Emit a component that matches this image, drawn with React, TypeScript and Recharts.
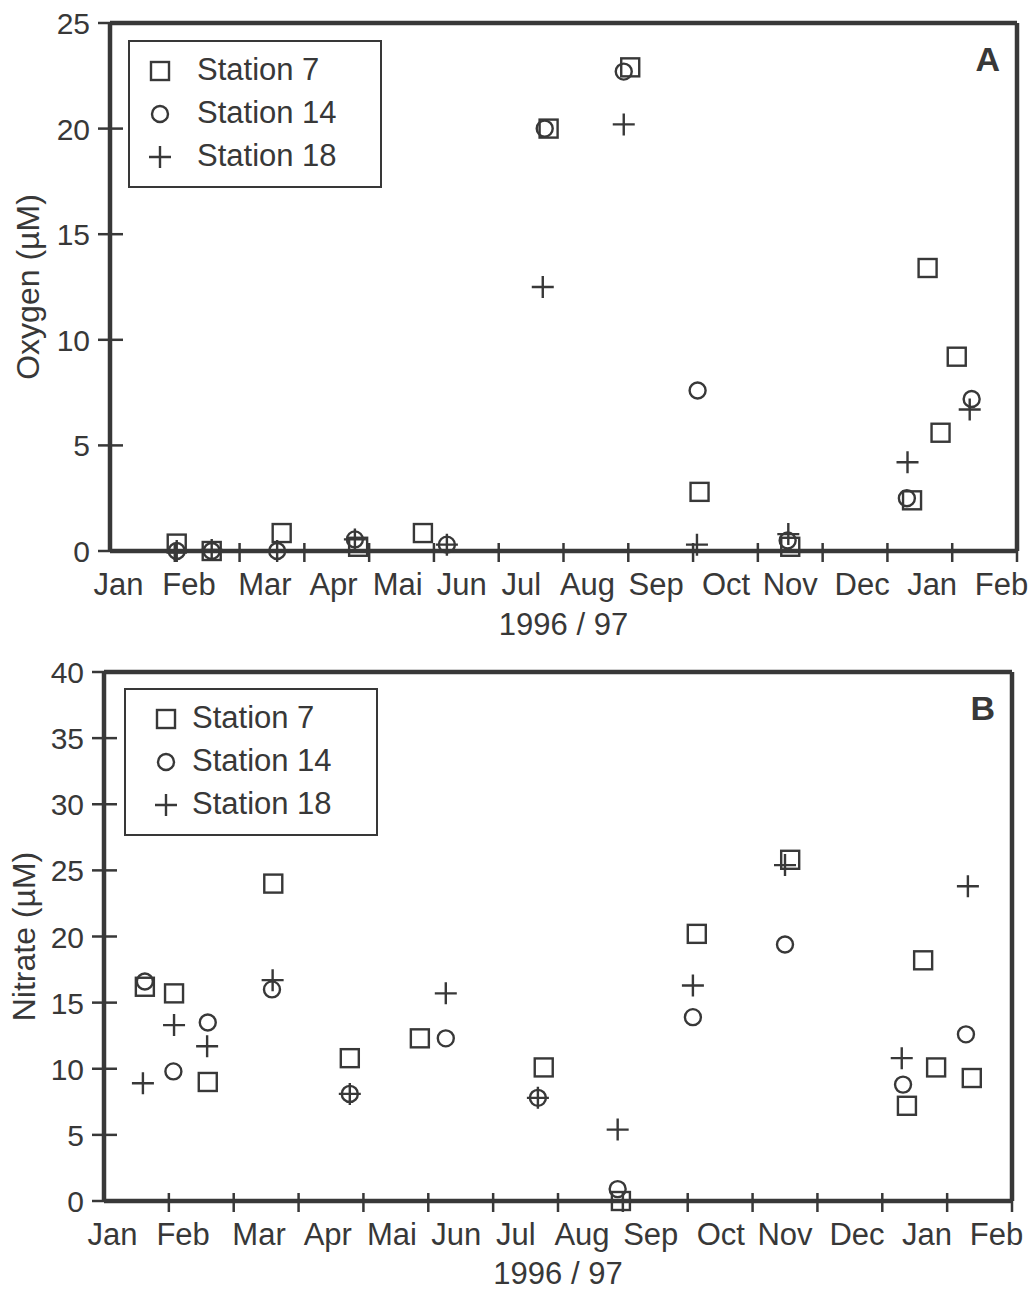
import { Legend, ReferenceLine, Scatter, ScatterChart, XAxis, YAxis } from "recharts";

const INK = "#383838";
const FONT = '"Liberation Sans", Arial, Helvetica, sans-serif';

const MONTHS = ["Jan", "Feb", "Mar", "Apr", "Mai", "Jun", "Jul", "Aug", "Sep", "Oct", "Nov", "Dec", "Jan", "Feb"];
// label centres in months since 1 Jan 1996 (the original spreads them a bit wider than the cells)
const MONTH_LABEL_POS = [0.13, 1.22, 2.39, 3.45, 4.44, 5.43, 6.35, 7.37, 8.43, 9.51, 10.5, 11.61, 12.69, 13.76];
const MONTH_BOUNDS = [1, 2, 3, 4, 5, 6, 7, 8, 9, 10, 11, 12, 13, 14];

const OXY_TICKS = [0, 5, 10, 15, 20, 25];
const NIT_TICKS = [0, 5, 10, 15, 20, 25, 30, 35, 40];

const STATIONS = ["Station 7", "Station 14", "Station 18"];

// [month, value]
const OXY_ST7: [number, number][] = [
  [1.03, 0.35], [1.57, 0], [2.65, 0.85], [3.83, 0.2], [4.83, 0.85], [6.77, 20.0], [8.03, 22.9],
  [9.1, 2.8], [10.5, 0.2], [12.38, 2.4], [12.62, 13.4], [12.82, 5.6], [13.07, 9.2],
];
const OXY_ST14: [number, number][] = [
  [1.03, 0], [1.57, 0], [2.58, 0], [3.78, 0.55], [5.2, 0.3], [6.71, 20.0], [7.93, 22.7],
  [9.07, 7.6], [10.46, 0.5], [12.3, 2.5], [13.3, 7.2],
];
const OXY_ST18: [number, number][] = [
  [1.03, 0], [1.57, 0.05], [2.58, 0], [3.78, 0.55], [5.2, 0.3], [6.68, 12.5], [7.93, 20.2],
  [9.06, 0.3], [10.47, 0.8], [12.31, 4.2], [13.27, 6.7],
];

const NIT_ST7: [number, number][] = [
  [0.63, 16.2], [1.08, 15.7], [1.6, 9.0], [2.61, 24.0], [3.79, 10.8], [4.87, 12.3], [6.78, 10.1],
  [7.97, 0], [9.14, 20.2], [10.58, 25.8], [12.38, 7.2], [12.63, 18.2], [12.83, 10.1], [13.38, 9.3],
];
const NIT_ST14: [number, number][] = [
  [0.63, 16.6], [1.07, 9.8], [1.6, 13.5], [2.59, 16.0], [3.79, 8.1], [5.27, 12.3], [6.69, 7.8],
  [7.92, 0.9], [9.08, 13.9], [10.5, 19.4], [12.32, 8.8], [13.29, 12.6],
];
const NIT_ST18: [number, number][] = [
  [0.6, 8.9], [1.08, 13.3], [1.59, 11.7], [2.6, 16.7], [3.79, 8.1], [5.27, 15.7], [6.69, 7.8],
  [7.92, 5.4], [9.08, 16.3], [10.5, 25.4], [12.3, 10.8], [13.32, 23.8],
];

type MarkKind = "square" | "circle" | "plus";
const STATION_MARK: Record<string, MarkKind> = {
  "Station 7": "square",
  "Station 14": "circle",
  "Station 18": "plus",
};

const toPoints = (rows: [number, number][]) => rows.map(([x, y]) => ({ x, y }));

function Mark({ kind, cx, cy }: { kind: MarkKind; cx: number; cy: number }) {
  if (kind === "square") {
    return <rect x={cx - 9} y={cy - 9} width={18} height={18} fill="none" stroke={INK} strokeWidth={2.4} />;
  }
  if (kind === "circle") {
    return <circle cx={cx} cy={cy} r={8} fill="none" stroke={INK} strokeWidth={2.4} />;
  }
  return (
    <path d={`M${cx - 11},${cy}H${cx + 11}M${cx},${cy - 11}V${cy + 11}`} fill="none" stroke={INK} strokeWidth={2.4} />
  );
}

const markShape = (kind: MarkKind) => (p: any) => <Mark kind={kind} cx={p.cx} cy={p.cy} />;

function MonthTick({ x, y, payload }: any) {
  const v = payload.value;
  if (MONTH_BOUNDS.includes(v)) {
    return <line x1={x} x2={x} y1={y - 8} y2={y + 11} stroke={INK} strokeWidth={2.5} />;
  }
  const i = MONTH_LABEL_POS.indexOf(v);
  return (
    <text x={x} y={y + 44} textAnchor="middle" fill={INK} fontSize={31} fontFamily={FONT}>
      {MONTHS[i]}
    </text>
  );
}

function ValueTick({ x, y, payload }: any) {
  return (
    <g>
      <line x1={x - 12} x2={x + 13} y1={y} y2={y} stroke={INK} strokeWidth={2.5} />
      <text x={x - 20} y={y + 11} textAnchor="end" fill={INK} fontSize={30} fontFamily={FONT}>
        {payload.value}
      </text>
    </g>
  );
}

function StationLegend({ markerX, textX }: { markerX: number; textX: number }) {
  return (
    <div
      style={{
        position: "relative",
        width: 254,
        height: 148,
        border: `2px solid ${INK}`,
        boxSizing: "border-box",
        background: "#fff",
        fontFamily: FONT,
        fontSize: 31,
        color: INK,
      }}
    >
      {STATIONS.map((name, i) => (
        <div key={name} style={{ position: "absolute", left: 0, top: 8 + i * 43, height: 43, width: "100%" }}>
          <svg width={26} height={26} style={{ position: "absolute", left: markerX - 15, top: 8 }}>
            <Mark kind={STATION_MARK[name]} cx={13} cy={13} />
          </svg>
          <span style={{ position: "absolute", left: textX - 2, top: 2, lineHeight: "36px", whiteSpace: "nowrap" }}>
            {name}
          </span>
        </div>
      ))}
    </div>
  );
}

type PanelProps = {
  width: number;
  height: number;
  left: number;
  right: number;
  top: number;
  xAxisHeight: number;
  yMax: number;
  yTicks: number[];
  yTitle: string;
  yTitleOffset: number;
  xTitleOffset: number;
  letter: string;
  legendBox: { left: number; top: number; markerX: number; textX: number };
  series: { name: string; rows: [number, number][] }[];
};

function Panel(p: PanelProps) {
  return (
    <ScatterChart width={p.width} height={p.height} margin={{ top: p.top, right: p.right, left: 0, bottom: 0 }}>
      <XAxis
        type="number"
        dataKey="x"
        domain={[0, 14]}
        ticks={[...MONTH_BOUNDS, ...MONTH_LABEL_POS]}
        interval={0}
        tick={<MonthTick />}
        tickLine={false}
        tickSize={0}
        tickMargin={0}
        height={p.xAxisHeight}
        axisLine={{ stroke: INK, strokeWidth: 4.5 }}
        label={{
          value: "1996 / 97",
          position: "insideBottom",
          offset: p.xTitleOffset,
          style: { fontSize: 31, fill: INK, fontFamily: FONT },
        }}
      />
      <YAxis
        type="number"
        dataKey="y"
        domain={[0, p.yMax]}
        ticks={p.yTicks}
        interval={0}
        tick={<ValueTick />}
        tickLine={false}
        tickSize={0}
        tickMargin={0}
        width={p.left}
        axisLine={{ stroke: INK, strokeWidth: 4.5 }}
        label={{
          value: p.yTitle,
          angle: -90,
          position: "insideLeft",
          offset: p.yTitleOffset,
          style: { textAnchor: "middle", fontSize: 32, fill: INK, fontFamily: FONT },
        }}
      />
      <ReferenceLine y={p.yMax} stroke={INK} strokeWidth={4.5} />
      <ReferenceLine x={14} stroke={INK} strokeWidth={4.5} />
      <Legend
        layout="vertical"
        align="center"
        verticalAlign="middle"
        wrapperStyle={{ left: p.legendBox.left, top: p.legendBox.top, width: 254, height: 148 }}
        content={() => <StationLegend markerX={p.legendBox.markerX} textX={p.legendBox.textX} />}
      />
      {p.series.map((s) => (
        <Scatter
          key={s.name}
          name={s.name}
          data={toPoints(s.rows)}
          shape={markShape(STATION_MARK[s.name])}
          fill={INK}
          isAnimationActive={false}
        />
      ))}
      <text
        x={p.width - p.right - 17}
        y={p.top + 48}
        textAnchor="end"
        fontSize={34}
        fontWeight="bold"
        fontFamily={FONT}
        fill={INK}
      >
        {p.letter}
      </text>
    </ScatterChart>
  );
}

export default function App() {
  return (
    <div style={{ position: "absolute", left: 0, top: 0, width: 1035, height: 1293, background: "#fff" }}>
      <div style={{ position: "absolute", left: 0, top: 0 }}>
        <Panel
          width={1035}
          height={650}
          left={110}
          right={18}
          top={23}
          xAxisHeight={99}
          yMax={25}
          yTicks={OXY_TICKS}
          yTitle="Oxygen (µM)"
          yTitleOffset={28}
          xTitleOffset={15}
          letter="A"
          legendBox={{ left: 128, top: 40, markerX: 32, textX: 69 }}
          series={[
            { name: "Station 7", rows: OXY_ST7 },
            { name: "Station 14", rows: OXY_ST14 },
            { name: "Station 18", rows: OXY_ST18 },
          ]}
        />
      </div>
      <div style={{ position: "absolute", left: 0, top: 650 }}>
        <Panel
          width={1035}
          height={643}
          left={104}
          right={23}
          top={22}
          xAxisHeight={92}
          yMax={40}
          yTicks={NIT_TICKS}
          yTitle="Nitrate (µM)"
          yTitleOffset={24}
          xTitleOffset={9}
          letter="B"
          legendBox={{ left: 124, top: 38, markerX: 42, textX: 68 }}
          series={[
            { name: "Station 7", rows: NIT_ST7 },
            { name: "Station 14", rows: NIT_ST14 },
            { name: "Station 18", rows: NIT_ST18 },
          ]}
        />
      </div>
    </div>
  );
}
